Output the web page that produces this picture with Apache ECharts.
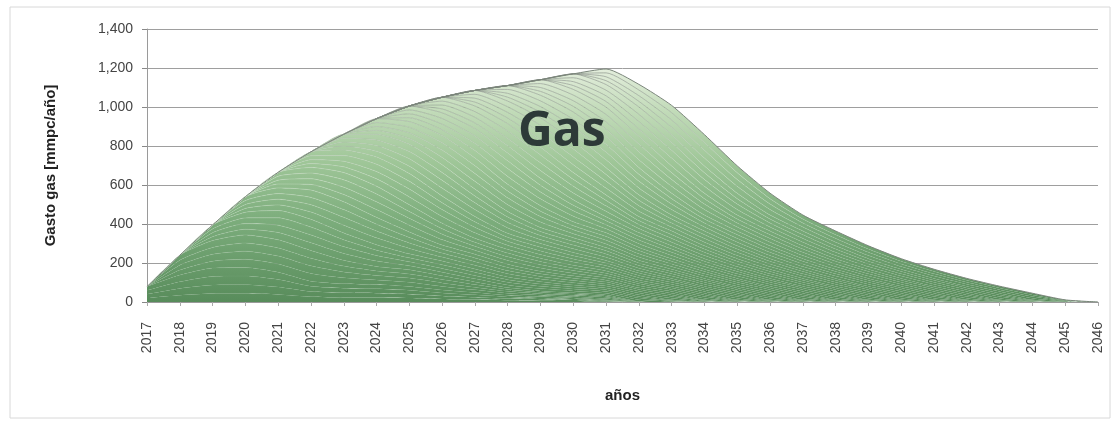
<!DOCTYPE html>
<html>
<head>
<meta charset="utf-8">
<script src="https://cdn.jsdelivr.net/npm/echarts@6/dist/echarts.min.js"></script>
<style>
html,body{margin:0;padding:0;background:#fff;}
#chart{width:1117px;height:425px;}
</style>
</head>
<body>
<div id="chart"></div>
<script>
// Categories (years)
const years = ['2017','2018','2019','2020','2021','2022','2023','2024','2025','2026',
  '2027','2028','2029','2030','2031','2032','2033','2034','2035','2036',
  '2037','2038','2039','2040','2041','2042','2043','2044','2045','2046'];

// Y axis ticks
const yTicks = [0, 200, 400, 600, 800, 1000, 1200, 1400];

// Production by cohort (mmpc/año), each starting in the year given
const gas2017 = [79,138,174,177,153,107,94,90,80,62,49,35,28,21,12];
const gas2018 = [102,141,167,166,157,120,92,85,72,54,39,29,26,24,3];
// Typical cohort profile for the cohorts that start 2019..2031
const typeCohort = [80,116,150,160,140,112,82,76,66,54,47,40,36,34,11];
const typeCohortStarts = [2019,2020,2021,2022,2023,2024,2025,2026,2027,2028,2029,2030,2031];
const wellsPerCohort = 4;

const cohorts = [{start:2017, vals:gas2017},{start:2018, vals:gas2018}]
  .concat(typeCohortStarts.map(s => ({start:s, vals:typeCohort})));

const fillGrad = {
  type:'linear', x:0, y:29, x2:0, y2:302, global:true,
  colorStops:[
    {offset:0.00, color:'#f4f7f0'},
    {offset:0.14, color:'#e4eedd'},
    {offset:0.30, color:'#c2dbb9'},
    {offset:0.48, color:'#a0c799'},
    {offset:0.70, color:'#7cad7c'},
    {offset:1.00, color:'#588c5b'}
  ]
};
const lineGrad = {
  type:'linear', x:0, y:29, x2:0, y2:302, global:true,
  colorStops:[
    {offset:0.00, color:'rgba(105,110,105,0.85)'},
    {offset:0.30, color:'rgba(135,145,135,0.6)'},
    {offset:0.55, color:'rgba(215,230,212,0.4)'},
    {offset:0.80, color:'rgba(210,228,208,0.15)'},
    {offset:0.93, color:'rgba(200,220,200,0.04)'},
    {offset:1.00, color:'rgba(200,220,200,0)'}
  ]
};

const series = [];
cohorts.forEach((c) => {
  const row = years.map(y => {
    const a = Number(y) - c.start;
    return (a >= 0 && a < c.vals.length) ? c.vals[a] : 0;
  });
  for (let w = 0; w < wellsPerCohort; w++) {
    series.push({
      type:'line', stack:'gas', symbol:'none', silent:true,
      smooth:0.2,
      data: row.map(v => v / wellsPerCohort),
      lineStyle:{width:0.8, color:lineGrad},
      areaStyle:{color:fillGrad, opacity:1},
      z: 2
    });
  }
});
// top edge line darker
series[series.length-1].lineStyle = {width:1, color:'#7a857a'};

const labelFont = 'Liberation Sans';
const chart = echarts.init(document.getElementById('chart'), null, {renderer:'canvas'});
chart.setOption({
  animation:false,
  backgroundColor:'#ffffff',
  grid:{left:147, right:19, top:29, bottom:123, containLabel:false},
  xAxis:{
    type:'category', data:years, boundaryGap:false,
    name:'años', nameLocation:'middle', nameGap:86,
    nameTextStyle:{fontFamily:labelFont, fontSize:15, fontWeight:'bold', color:'#222'},
    axisLine:{lineStyle:{color:'#9a9a9a'}},
    axisTick:{show:true, length:4, interval:0, lineStyle:{color:'#aaa'}},
    axisLabel:{rotate:90, interval:0, margin:20, fontFamily:labelFont, fontSize:14, color:'#444'},
    splitLine:{show:false}
  },
  yAxis:{
    type:'value', min:yTicks[0], max:yTicks[yTicks.length-1], interval:200,
    name:'Gasto gas [mmpc/año]', nameLocation:'middle', nameGap:89,
    nameTextStyle:{fontFamily:labelFont, fontSize:15, fontWeight:'bold', color:'#222'},
    axisLine:{show:true, lineStyle:{color:'#9a9a9a'}},
    axisTick:{show:true, length:5, lineStyle:{color:'#888'}},
    axisLabel:{margin:14, fontFamily:labelFont, fontSize:14, color:'#444',
      formatter: v => v.toLocaleString('en-US')},
    splitLine:{show:true, lineStyle:{color:'#9e9e9e', width:1}}
  },
  graphic:[
    {type:'rect', shape:{x:10, y:7, width:1100, height:411},
     style:{fill:'none', stroke:'#d8d8d8', lineWidth:1}, silent:true, z:-1},
    {type:'text', left:518, top:108, z:100, silent:true,
     style:{text:'Gas', font:'bold 48px "Open Sans"', fill:'#2d3a38',
       shadowColor:'rgba(0,0,0,0.35)', shadowBlur:4, shadowOffsetX:1, shadowOffsetY:1}}
  ],
  series: series
});
</script>
</body>
</html>
